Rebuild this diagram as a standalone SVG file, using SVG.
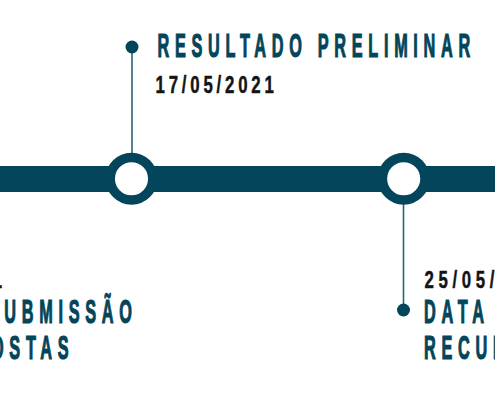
<svg xmlns="http://www.w3.org/2000/svg" width="495" height="400" viewBox="0 0 495 400">
  <style>
    .bar { fill: #03455a; }
    .stem { stroke: #2b6277; stroke-width: 1.6; fill: none; }
    .dot { fill: #03455a; }
    .ring { fill: #ffffff; stroke: #03455a; stroke-width: 9.5; }
    .title { font-family: "Liberation Sans", Arial, sans-serif; font-weight: bold; font-size: 32.5px; fill: #03455a; stroke: #03455a; stroke-width: 1.2px; letter-spacing: 11.4px; }
    .date { font-family: "Liberation Sans", Arial, sans-serif; font-weight: bold; font-size: 24.7px; fill: #141414; stroke: #141414; stroke-width: 0.5px; letter-spacing: 5.6px; }
    .date-wide { letter-spacing: 6.8px; }
  </style>
  <rect width="495" height="400" fill="#ffffff"/>
  <g id="connectors">
    <rect class="bar" x="0" y="166" width="495" height="26"/>
    <line class="stem" x1="132" y1="47" x2="132" y2="156"/>
    <line class="stem" x1="403.5" y1="200" x2="403.5" y2="310"/>
  </g>
  <g id="node-resultado">
    <circle class="ring" cx="131.5" cy="178.7" r="21.3"/>
    <circle class="dot" cx="132" cy="47" r="6.5"/>
    <text class="title" transform="translate(157.6,57.2) scale(0.5,1)">RESULTADO PRELIMINAR</text>
    <text class="date" transform="translate(155.5,92.7) scale(0.68,1)">17/05/2021</text>
  </g>
  <g id="node-recurso">
    <circle class="ring" cx="403.7" cy="178.7" r="21.3"/>
    <circle class="dot" cx="403.5" cy="310" r="6.5"/>
    <text class="date date-wide" transform="translate(424.5,287.7) scale(0.68,1)">25/05/2021</text>
    <text class="title" transform="translate(424.1,322.8) scale(0.5,1)">DATA LIMITE</text>
    <text class="title" transform="translate(424.1,358.8) scale(0.5,1)">RECURSOS</text>
  </g>
  <g id="node-submissao">
    <text class="date" transform="translate(-116.3,287.7) scale(0.68,1)">10/05/2021</text>
    <text class="title" text-anchor="end" transform="translate(137.5,322.8) scale(0.5,1)">DATA DE SUBMISSÃO</text>
    <text class="title" text-anchor="end" transform="translate(74.3,358.8) scale(0.5,1)">DAS PROPOSTAS</text>
  </g>
</svg>
